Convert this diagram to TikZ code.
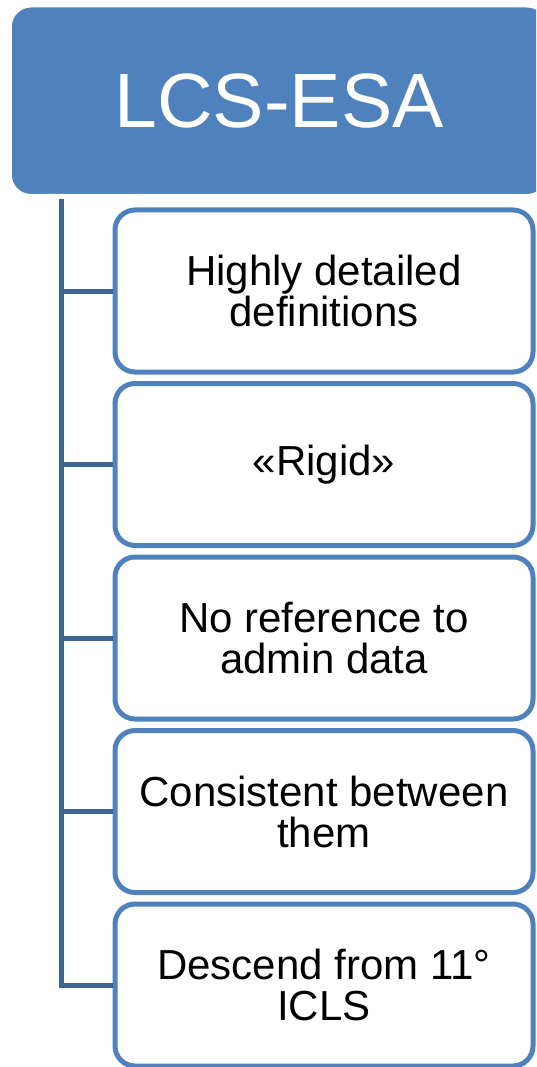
\documentclass[tikz,border=0pt]{standalone}
\usepackage{fontspec}
\setmainfont{Liberation Sans}
\usepackage{xcolor}
\definecolor{accentBlue}{RGB}{79,129,189}
\definecolor{trunkBlue}{RGB}{62,100,150}

\begin{document}
\begin{tikzpicture}[x=1pt, y=-1pt,
  headStyle/.style={draw=white, line width=1.5pt, fill=accentBlue, rounded corners=20pt, text=white, minimum width=536pt, minimum height=188pt, font=\fontsize{77}{80}\selectfont},
  itemStyle/.style={draw=accentBlue, line width=5pt, fill=white, rounded corners=20pt, align=center, minimum width=418pt, minimum height=162pt, inner sep=0pt, font=\fontsize{42}{41}\selectfont},
  trunkStyle/.style={draw=trunkBlue, line width=5pt}
]
\useasboundingbox (0,0) rectangle (536,1067);
\clip (0,0) rectangle (536,1067);

\node [headStyle] (head) at (279, 100.75) {LCS-ESA};

\node [itemStyle] (defs)    at (324, 291)   {Highly detailed\\definitions};
\node [itemStyle] (rigid)   at (324, 464.5) {«Rigid»};
\node [itemStyle] (admin)   at (324, 638)   {No reference to\\admin data};
\node [itemStyle] (consist) at (324, 811.5) {Consistent between\\them};
\node [itemStyle] (icls)    at (324, 985)   {Descend from 11°\\ICLS};

\coordinate (trunk) at (61, 199);
\draw [trunkStyle] (trunk) |- (icls.west);
\draw [trunkStyle] (trunk |- defs.west)    -- (defs.west);
\draw [trunkStyle] (trunk |- rigid.west)   -- (rigid.west);
\draw [trunkStyle] (trunk |- admin.west)   -- (admin.west);
\draw [trunkStyle] (trunk |- consist.west) -- (consist.west);
\end{tikzpicture}
\end{document}
